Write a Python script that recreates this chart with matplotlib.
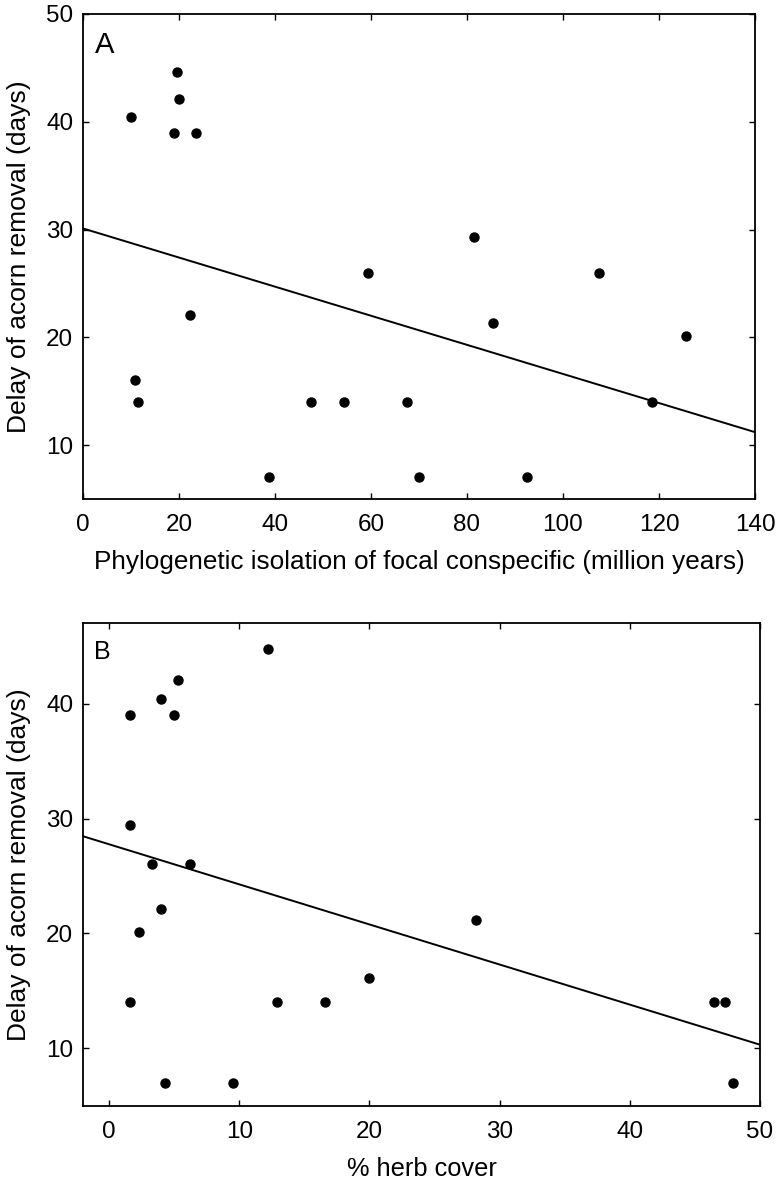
import numpy as np
import matplotlib
matplotlib.use("Agg")
import matplotlib.pyplot as plt

plt.rcParams['font.family'] = ['Liberation Sans', 'DejaVu Sans']

# panel A: phylogenetic isolation vs delay of acorn removal
iso_myr = [10, 19.6, 19.9, 18.9, 23.5, 59.4, 22.3, 10.8, 11.5, 47.4,
           54.4, 38.7, 81.5, 107.5, 85.5, 125.6, 67.4, 118.5, 70.1, 92.4]
delay_a = [40.4, 44.6, 42.1, 39, 39, 26, 22.1, 16, 14, 14,
           14, 7, 29.3, 26, 21.3, 20.1, 14, 14, 7, 7]
fit_a = (30.1, -0.135)   # intercept, slope

# panel B: herb cover vs delay of acorn removal
herb_pct = [12.2, 5.3, 4.0, 1.6, 5.0, 1.6, 3.3, 6.2, 4.0, 2.3,
            1.6, 12.9, 16.6, 20.0, 4.3, 9.5, 28.2, 46.5, 47.3, 47.9]
delay_b = [44.8, 42.1, 40.4, 39, 39, 29.4, 26, 26, 22.1, 20.1,
           14, 14, 14, 16.1, 7, 7, 21.2, 14, 14, 7]
fit_b = (27.76, -0.349)

ylab = 'Delay of acorn removal (days)'

fig = plt.figure(figsize=(7.78, 11.86), dpi=100)
axA = fig.add_axes([0.1067, 0.5793, 0.8637, 0.4089])
axB = fig.add_axes([0.1067, 0.0677, 0.8702, 0.4068])


def style(ax):
    ax.tick_params(direction='in', top=True, right=True, length=4, width=1,
                   labelsize=17.5)
    ax.tick_params(axis='x', pad=11)
    ax.tick_params(axis='y', pad=7)
    for s in ax.spines.values():
        s.set_linewidth(1.3)


# A
axA.plot(iso_myr, delay_a, 'o', color='black', ms=6.5)
xx = np.array([0, 140])
axA.plot(xx, fit_a[0] + fit_a[1] * xx, color='black', lw=1.4)
axA.set_xlim(0, 140)
axA.set_ylim(5, 50)
axA.set_xticks(range(0, 141, 20))
axA.set_yticks([10, 20, 30, 40, 50])
style(axA)
axA.set_xlabel('Phylogenetic isolation of focal conspecific (million years)',
               fontsize=18.8, labelpad=10)
axA.set_ylabel(ylab, fontsize=19, labelpad=11)
axA.text(0.018, 0.965, 'A', transform=axA.transAxes, fontsize=21,
         va='top', ha='left')

# B
axB.plot(herb_pct, delay_b, 'o', color='black', ms=6.5)
xb = np.array([-2, 50])
axB.plot(xb, fit_b[0] + fit_b[1] * xb, color='black', lw=1.4)
axB.set_xlim(-2, 50)
axB.set_ylim(5, 47)
axB.set_xticks(range(0, 51, 10))
axB.set_yticks([10, 20, 30, 40])
style(axB)
axB.set_xlabel('% herb cover', fontsize=18.3, labelpad=10)
axB.set_ylabel(ylab, fontsize=19, labelpad=11)
axB.text(0.016, 0.965, 'B', transform=axB.transAxes, fontsize=18,
         va='top', ha='left')

fig.savefig('out.png', dpi=100)
